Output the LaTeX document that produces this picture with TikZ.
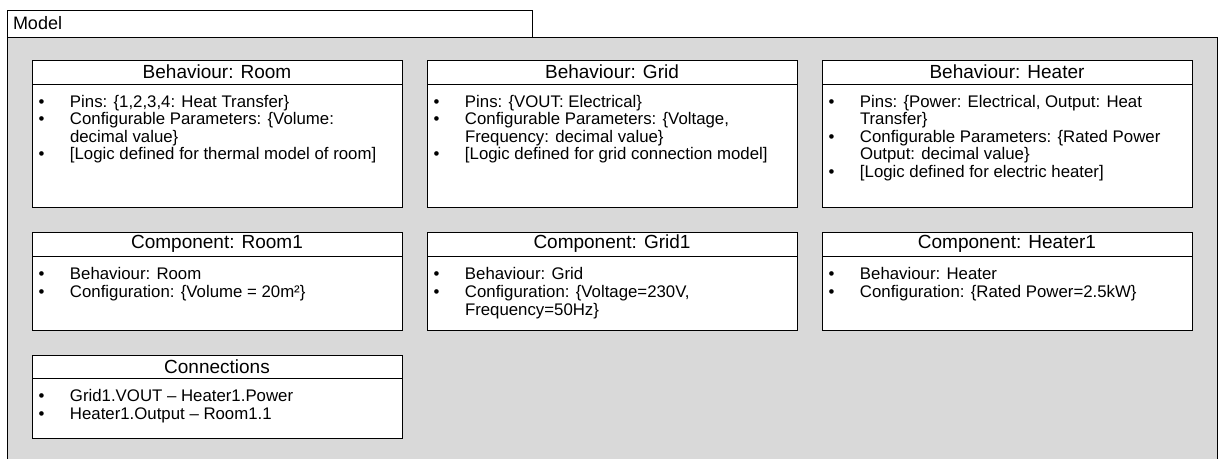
\documentclass[tikz,border=0pt]{standalone}
\usepackage{fontspec}
\setmainfont{Liberation Sans}
\usetikzlibrary{positioning}
\definecolor{mdlGrey}{HTML}{D9D9D9}

% list body of fixed height: bullet column + text column
\newcommand{\boxlist}[3]{\parbox[t][#1][t]{370pt}{\fontsize{16.8}{#2}\selectfont\vspace*{11pt}\hspace*{6.5pt}\begin{tabular}[t]{@{}p{31.5pt}@{}l@{}}#3\end{tabular}}}
\newcommand{\bul}{\textbullet}

\begin{document}
\begin{tikzpicture}[
  x=1pt, y=1pt,
  node distance=25pt,
  head/.style={draw, fill=white, line width=0.9pt, outer sep=0pt, inner sep=0pt, minimum width=370pt, minimum height=24pt, font=\fontsize{19}{22}\selectfont},
  body/.style={draw, fill=white, line width=0.9pt, outer sep=0pt, inner sep=0pt},
  tab/.style={draw, fill=white, line width=0.9pt, outer sep=0pt, inner xsep=6pt, inner ysep=0pt, text width=513pt, minimum height=27pt, align=left, font=\fontsize{18}{21}\selectfont}
]
\useasboundingbox (0,0) rectangle (1223,-459);

% model frame, cut off at the bottom
\fill[mdlGrey] (7,-37) rectangle (1217,-459);
\draw[line width=1pt] (7,-459) -- (7,-37) -- (1217,-37) -- (1217,-459);
\node[tab, anchor=north west] (model) at (7,-10) {Model};

% behaviours
\node[head, anchor=north west] (bRoomH) at (32,-60) {Behaviour: Room};
\node[body, below=0pt of bRoomH] (bRoomB) {\boxlist{123pt}{17.5pt}{
  \bul & Pins: \{1,2,3,4: Heat Transfer\}\\
  \bul & Configurable Parameters: \{Volume:\\
       & decimal value\}\\
  \bul & [Logic defined for thermal model of room]}};

\node[head, right=of bRoomH] (bGridH) {Behaviour: Grid};
\node[body, below=0pt of bGridH] (bGridB) {\boxlist{123pt}{17.5pt}{
  \bul & Pins: \{VOUT: Electrical\}\\
  \bul & Configurable Parameters: \{Voltage,\\
       & Frequency: decimal value\}\\
  \bul & [Logic defined for grid connection model]}};

\node[head, right=of bGridH] (bHeaterH) {Behaviour: Heater};
\node[body, below=0pt of bHeaterH] (bHeaterB) {\boxlist{123pt}{17.5pt}{
  \bul & Pins: \{Power: Electrical, Output: Heat\\
       & Transfer\}\\
  \bul & Configurable Parameters: \{Rated Power\\
       & Output: decimal value\}\\
  \bul & [Logic defined for electric heater]}};

% components
\node[head, below=of bRoomB] (cRoomH) {Component: Room1};
\node[body, below=0pt of cRoomH] (cRoomB) {\boxlist{74pt}{18pt}{
  \bul & Behaviour: Room\\
  \bul & Configuration: \{Volume = 20m²\}}};

\node[head, right=of cRoomH] (cGridH) {Component: Grid1};
\node[body, below=0pt of cGridH] (cGridB) {\boxlist{74pt}{18pt}{
  \bul & Behaviour: Grid\\
  \bul & Configuration: \{Voltage=230V,\\
       & Frequency=50Hz\}}};

\node[head, right=of cGridH] (cHeaterH) {Component: Heater1};
\node[body, below=0pt of cHeaterH] (cHeaterB) {\boxlist{74pt}{18pt}{
  \bul & Behaviour: Heater\\
  \bul & Configuration: \{Rated Power=2.5kW\}}};

% connections
\node[head, minimum height=23pt, below=of cRoomB] (connH) {Connections};
\node[body, below=0pt of connH] (connB) {\boxlist{60pt}{18pt}{
  \bul & Grid1.VOUT -- Heater1.Power\\
  \bul & Heater1.Output -- Room1.1}};
\end{tikzpicture}
\end{document}
